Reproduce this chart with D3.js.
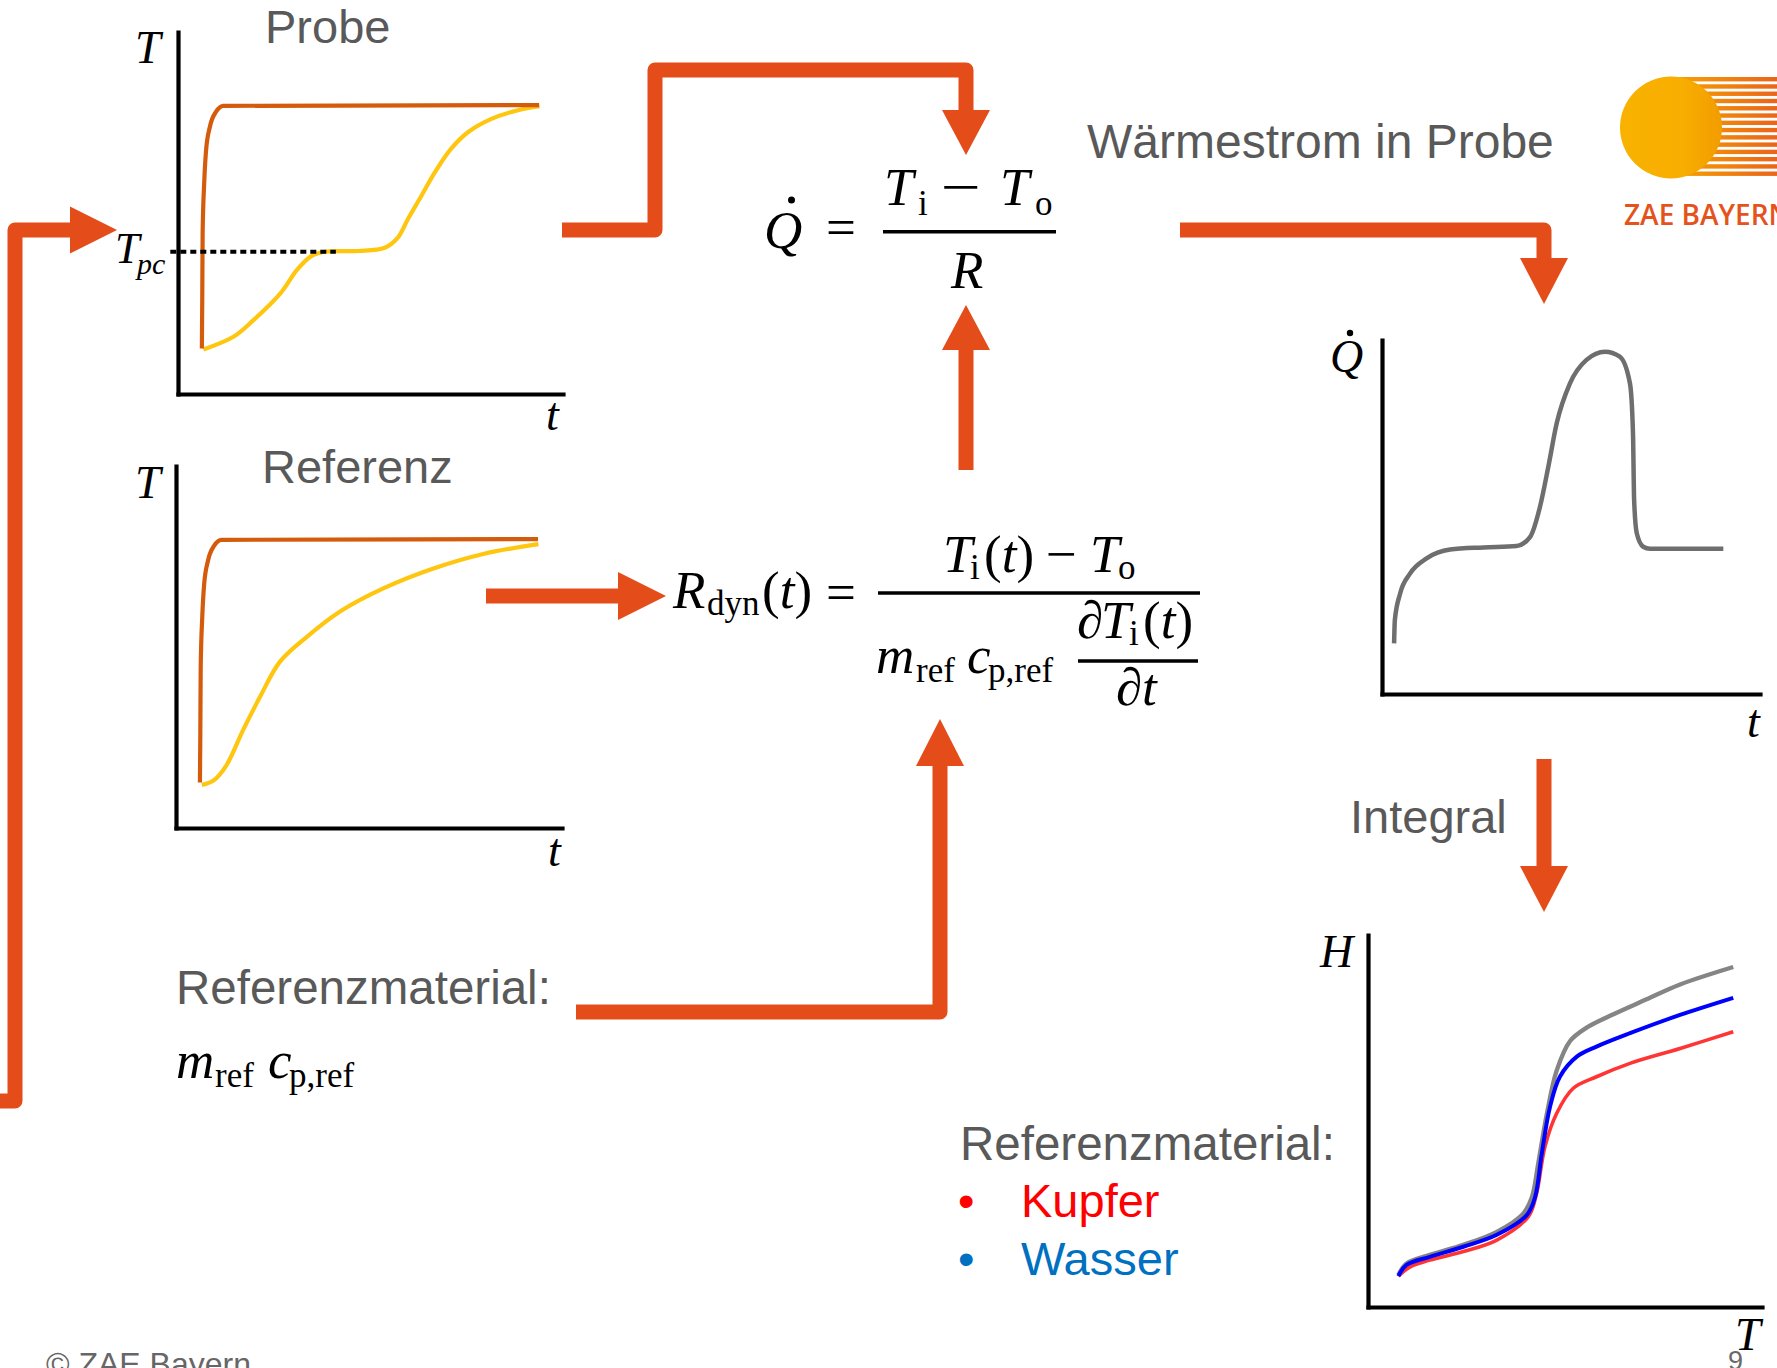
<!DOCTYPE html>
<html><head><meta charset="utf-8">
<script src="https://cdn.jsdelivr.net/npm/d3@7"></script>
<style>html,body{margin:0;padding:0;background:#fff;overflow:hidden}svg{display:block}</style>
</head><body>
<script>
// ---------------- DATA (schematic curves, arbitrary units 0..100) ----------------
// heater (outer) temperature, same in "Probe" and "Referenz"
const heaterCurve = [[6.2,12.6],[6.3,26],[6.4,44.4],[6.8,58.2],[7.3,67.4],[8.3,73.9],[9.9,78],[11.8,79.6],[93.8,79.8]];
// sample temperature with phase-change plateau
const probeSampleCurve = [[6.6,12.3],[14.4,15.8],[19.6,20.4],[26.6,27.8],[30.9,34.3],[34.6,38.1],[38.1,39.3],[46.8,39.5],[53.7,40.4],[57.1,43.2],[59.7,48.3],[63.2,54.7],[66.7,61.2],[70.9,67.7],[75.3,72.3],[81.4,76.0],[88.3,78.4],[93.9,79.5]];
const tpcLevel = 39.3;
const tpcLineRange = [-2, 41];
// reference temperature
const refSampleCurve = [[6.7,11.9],[9.7,13.1],[13.1,17.4],[17.4,27.1],[21.8,36.3],[26.9,45.9],[33.9,52.8],[42.5,59.8],[53.7,66.2],[66.7,71.7],[79.6,75.7],[93.9,78.4]];
// heat flow into sample
const heatFlowCurve = [[3.2,14.3],[3.4,20.9],[4.8,28.4],[7.4,34.0],[11.8,38.3],[18.0,40.8],[26.8,41.4],[35.6,41.8],[39.2,44.4],[41.8,52.9],[44.0,64.2],[46.2,76.4],[49.7,87.7],[54.1,94.4],[59.0,96.7],[62.9,95.3],[65.6,87.7],[66.4,73.6],[66.7,54.8],[67.4,45.4],[69.1,41.6],[70.9,41.0],[90.3,41.0]];
// enthalpy curves
const enthalpyGray   = [[7.7,8.6],[9.8,11.7],[15.7,14.0],[24.2,16.7],[32.7,20.2],[39.4,25.1],[41.6,29.5],[43.2,38.5],[45.4,51.9],[47.9,63.6],[51.3,71.5],[55.5,75.1],[62.3,78.7],[70.7,82.7],[79.2,86.7],[92.7,91.4]];
const enthalpyWasser = [[7.7,8.3],[9.8,11.3],[15.7,13.5],[24.2,16.2],[32.7,19.4],[40.3,24.7],[42.4,29.5],[44.1,41.2],[46.2,53.8],[48.7,61.9],[53.0,67.3],[58.0,70.0],[66.5,73.6],[79.2,78.5],[92.7,83.1]];
const enthalpyKupfer = [[7.7,8.3],[10.7,10.8],[15.7,12.6],[24.2,14.9],[32.7,18.0],[40.7,24.3],[42.8,30.6],[44.9,43.1],[47.9,52.1],[52.1,58.8],[58.0,61.9],[66.5,65.5],[79.2,69.5],[92.7,74.0]];
// texts
const panelTitles = ["Probe", "Referenz"];
const materialLabel = "Referenzmaterial:";
const materials = ["Kupfer", "Wasser"];
const materialColors = ["#FF0000", "#0070C0"];

// ---------------- SETUP ----------------
const W = 1777, H = 1368;
const svg = d3.select("body").append("svg").attr("width", W).attr("height", H);
const SANS = "'Liberation Sans', Arial, sans-serif";
const SERIF = "'Liberation Serif', 'Times New Roman', serif";
const GRAY = "#595959";
const ARROW = "#E44D1A";
const ORANGE = "#D55B0C";
const YELLOW = "#FFC610";
const SUB = 35;

function txt(x, y, s, o = {}) {
  return svg.append("text").attr("x", x).attr("y", y).text(s)
    .attr("font-family", o.serif ? SERIF : SANS)
    .attr("font-size", o.size || 47)
    .attr("font-style", o.it ? "italic" : "normal")
    .attr("font-weight", o.weight || "normal")
    .attr("fill", o.fill || (o.serif ? "#000" : GRAY));
}
function m(x, y, s, size, it) { return txt(x, y, s, {serif: true, size: size || 53, it: !!it}); }
function bar(x1, x2, y, w) {
  svg.append("line").attr("x1", x1).attr("x2", x2).attr("y1", y).attr("y2", y)
    .attr("stroke", "#000").attr("stroke-width", w || 3.4);
}
function parenT(x, y, size) {
  const t = svg.append("text").attr("x", x).attr("y", y).attr("font-family", SERIF).attr("font-size", size || 53);
  t.append("tspan").text("(");
  t.append("tspan").attr("font-style", "italic").text("t");
  t.append("tspan").text(")");
}
function minus(x, y, len) {
  return m(x, y, "\u2212", 53).attr("textLength", len).attr("lengthAdjust", "spacingAndGlyphs");
}

// ---------------- PANELS ----------------
function panel(box) {
  const x = d3.scaleLinear().domain([0, 100]).range([box.x0, box.x1]);
  const y = d3.scaleLinear().domain([0, 100]).range([box.y0, box.y1]);
  const g = svg.append("g");
  const ax = g.append("g").attr("transform", `translate(0,${box.y0})`)
    .call(d3.axisBottom(x).tickValues([]).tickSizeOuter(0));
  const ay = g.append("g").attr("transform", `translate(${box.x0},0)`)
    .call(d3.axisLeft(y).tickValues([]).tickSizeOuter(0));
  [ax, ay].forEach(a => a.select(".domain").attr("stroke", "#000").attr("stroke-width", 4.2).attr("stroke-linecap", "square"));
  return {x, y, g};
}
function curve(p, data, color, w, cv) {
  const line = d3.line().x(d => p.x(d[0])).y(d => p.y(d[1])).curve(cv || d3.curveMonotoneX);
  p.g.append("path").attr("d", line(data)).attr("fill", "none")
    .attr("stroke", color).attr("stroke-width", w || 4.2).attr("stroke-linecap", "butt");
}
const smooth = d3.curveCatmullRom.alpha(0.5);

// Probe
const p1 = panel({x0: 178, x1: 563, y0: 394, y1: 32});
curve(p1, probeSampleCurve, YELLOW, 4.2, smooth);
curve(p1, heaterCurve, ORANGE);
p1.g.append("line").attr("x1", p1.x(tpcLineRange[0])).attr("x2", p1.x(tpcLineRange[1]))
  .attr("y1", p1.y(tpcLevel)).attr("y2", p1.y(tpcLevel))
  .attr("stroke", "#000").attr("stroke-width", 4).attr("stroke-dasharray", "6,4");
txt(265, 43, panelTitles[0]);
m(135, 63, "T", 46, true);
m(546, 430, "t", 46, true);
m(115, 263, "T", 44, true);
m(137, 274, "pc", 30, true);

// Referenz
const p2 = panel({x0: 176, x1: 562, y0: 828, y1: 466});
curve(p2, refSampleCurve, YELLOW, 4.2, smooth);
curve(p2, heaterCurve, ORANGE);
txt(262, 483, panelTitles[1]);
m(135, 498, "T", 46, true);
m(548, 866, "t", 46, true);

// Heat flow
const p3 = panel({x0: 1382, x1: 1760, y0: 694, y1: 340});
curve(p3, heatFlowCurve, "#6E6E6E", 4.5);
m(1330, 372, "Q", 46, true);
svg.append("circle").attr("cx", 1350).attr("cy", 333).attr("r", 3.2).attr("fill", "#000");
m(1747, 737, "t", 46, true);

// Enthalpy
const p4 = panel({x0: 1368, x1: 1762, y0: 1307, y1: 935});
curve(p4, enthalpyGray, "#858585", 4.4, smooth);
curve(p4, enthalpyKupfer, "#FF3535", 3.6, smooth);
curve(p4, enthalpyWasser, "#0000FF", 4, smooth);
m(1320, 967, "H", 46, true);
txt(1728, 1370, "9", {size: 27, fill: "#6A6A6A"});
m(1735, 1350, "T", 46, true);

// ---------------- ARROWS ----------------
const arrows = [
  {d: "M0,1101H15V230H75", head: [[70,206.5],[117,230],[70,253.5]]},
  {d: "M562,230H655V70H966V112", head: [[942,110],[990,110],[966,155]]},
  {d: "M966,470V348", head: [[942,350],[990,350],[966,305]]},
  {d: "M1180,230H1544V262", head: [[1520,258],[1568,258],[1544,304]]},
  {d: "M486,596H622", head: [[618,572],[666,596],[618,620]]},
  {d: "M576,1012H940V764", head: [[916,766],[964,766],[940,719]]},
  {d: "M1544,759V870", head: [[1520,866],[1568,866],[1544,912]]}
];
arrows.forEach(a => {
  svg.append("path").attr("d", a.d).attr("fill", "none").attr("stroke", ARROW)
    .attr("stroke-width", 15).attr("stroke-linejoin", "round");
  svg.append("polygon").attr("points", a.head.map(p => p.join(",")).join(" ")).attr("fill", ARROW);
});

// ---------------- FORMULAS ----------------
// Q dot = (Ti - To)/R
m(764, 248, "Q", 53, true);
svg.append("circle").attr("cx", 791.5).attr("cy", 200).attr("r", 3.5).attr("fill", "#000");
m(826, 245, "=", 53);
bar(883, 1056, 231.7);
m(884, 205, "T", 53, true);
m(918, 215, "i", SUB);
minus(941, 205, 40);
m(1000, 205, "T", 53, true);
m(1035, 215, "o", SUB);
m(951, 288, "R", 53, true);

// R_dyn(t) formula
m(673, 608, "R", 53, true);
m(707, 615, "dyn", SUB);
parenT(762, 608);
m(826, 610, "=", 53);
bar(878, 1200, 593);
m(943, 572, "T", 53, true);
m(970, 579, "i", SUB);
parenT(984, 572);
minus(1046, 572, 31);
m(1090, 572, "T", 53, true);
m(1118, 579, "o", SUB);
m(876, 673, "m", 53, true);
m(916, 682, "ref", SUB);
m(967, 673, "c", 53, true);
m(988, 682, "p,ref", SUB);
m(1077, 638, "\u2202", 53);
m(1101, 638, "T", 53, true);
m(1129, 645, "i", SUB);
parenT(1143, 638);
bar(1078, 1198, 661);
m(1116, 705, "\u2202", 53);
m(1142, 705, "t", 53, true);

// left material block
txt(176, 1004, materialLabel, {size: 47.5});
m(176, 1078, "m", 53, true);
m(215, 1087, "ref", SUB);
m(268, 1078, "c", 53, true);
m(289, 1087, "p,ref", SUB);

// ---------------- OTHER TEXT ----------------
txt(1087, 158, "Wärmestrom in Probe", {size: 48});
txt(1350, 833, "Integral");
txt(960, 1160, materialLabel, {size: 47.5});
materials.forEach((s, i) => {
  const yb = 1217 + i * 58;
  txt(958, yb, "\u2022", {fill: materialColors[i]});
  txt(1021, yb, s, {fill: materialColors[i]});
});
txt(46, 1375, "\u00A9 ZAE Bayern", {size: 32, fill: "#666"});

// ---------------- LOGO ----------------
const defs = svg.append("defs");
const gs = defs.append("linearGradient").attr("id", "stripeGrad").attr("gradientUnits", "userSpaceOnUse")
  .attr("x1", 1670).attr("x2", 1777).attr("y1", 0).attr("y2", 0);
gs.append("stop").attr("offset", "0").attr("stop-color", "#F6A500");
gs.append("stop").attr("offset", "1").attr("stop-color", "#EA641A");
const gc = defs.append("linearGradient").attr("id", "circGrad").attr("x1", 0).attr("x2", 1).attr("y1", 0).attr("y2", 0);
gc.append("stop").attr("offset", "0").attr("stop-color", "#F9B200");
gc.append("stop").attr("offset", "0.6").attr("stop-color", "#F8AE00");
gc.append("stop").attr("offset", "1").attr("stop-color", "#F29C00");
d3.range(14).forEach(k => {
  svg.append("rect").attr("x", 1670).attr("y", 77 + k * 7.27).attr("width", 110).attr("height", 4.4)
    .attr("fill", "url(#stripeGrad)");
});
svg.append("circle").attr("cx", 1671).attr("cy", 127.5).attr("r", 51).attr("fill", "url(#circGrad)");
txt(1624, 225, "ZAE BAYERN", {size: 28, weight: 600, fill: "#E5531D"}).attr("font-family", "'Open Sans', 'Liberation Sans', sans-serif");
</script>
</body></html>
